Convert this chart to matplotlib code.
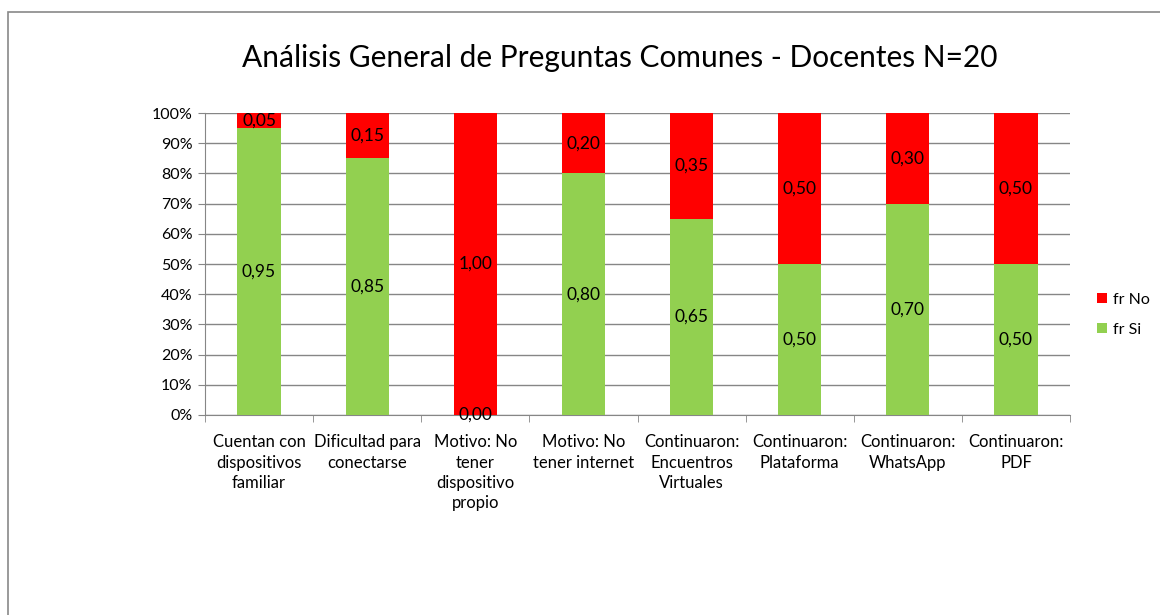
import matplotlib.pyplot as plt
import numpy as np
from matplotlib.patches import Rectangle

plt.rcParams['font.family'] = ['Lato', 'DejaVu Sans']

categorias = ['Cuentan con\ndispositivos\nfamiliar', 'Dificultad para\nconectarse',
              'Motivo: No\ntener\ndispositivo\npropio', 'Motivo: No\ntener internet',
              'Continuaron:\nEncuentros\nVirtuales', 'Continuaron:\nPlataforma',
              'Continuaron:\nWhatsApp', 'Continuaron:\nPDF']
fr_si = [0.95, 0.85, 0.00, 0.80, 0.65, 0.50, 0.70, 0.50]
fr_no = [0.05, 0.15, 1.00, 0.20, 0.35, 0.50, 0.30, 0.50]

verde = '#92D050'
rojo = '#FF0000'
gris = '#868686'

fig = plt.figure(figsize=(11.6, 6.15), dpi=100)
fig.patches.append(Rectangle((8/1160, -0.1), 1.2, (615-12)/615 + 0.1, transform=fig.transFigure,
                             fill=False, edgecolor='#898989', linewidth=1.2))
ax = fig.add_axes([205/1160, 1-415/615, 865/1160, 302/615])

x = np.arange(len(categorias))
b1 = ax.bar(x, fr_si, width=0.4, color=verde, label='fr Si', zorder=3)
b2 = ax.bar(x, fr_no, width=0.4, bottom=fr_si, color=rojo, label='fr No', zorder=3)

for i in range(len(x)):
    ax.text(x[i], fr_si[i]/2, f'{fr_si[i]:.2f}'.replace('.', ','), ha='center', va='center',
            fontsize=12.5, zorder=4)
    ax.text(x[i], fr_si[i] + fr_no[i]/2, f'{fr_no[i]:.2f}'.replace('.', ','), ha='center',
            va='center', fontsize=12.5, zorder=4)

ax.set_xlim(-0.5, len(x) - 0.5)
ax.set_ylim(0, 1)
ax.set_yticks(np.arange(0, 1.01, 0.1))
ax.set_yticklabels([f'{int(round(v*100))}%' for v in np.arange(0, 1.01, 0.1)], fontsize=11.5)
ax.yaxis.grid(True, color=gris, linewidth=1, zorder=0)
ax.set_xticks(x)
ax.set_xticklabels(categorias, fontsize=12, linespacing=1.32)
ax.set_xticks(np.arange(-0.5, len(x)), minor=True)
ax.tick_params(axis='x', which='major', length=0, pad=14)
ax.tick_params(axis='x', which='minor', length=5, color=gris)
ax.tick_params(axis='y', length=5, color=gris, pad=4)
for s in ['top', 'right']:
    ax.spines[s].set_visible(False)
ax.spines['left'].set_color(gris)
ax.spines['bottom'].set_color(gris)

fig.text(620/1160, 1-58/615, 'Análisis General de Preguntas Comunes - Docentes N=20',
         ha='center', va='center', fontsize=21.5)

h, l = ax.get_legend_handles_labels()
fig.legend(h[::-1], l[::-1], loc='center left', bbox_to_anchor=(1083/1160, 1-315/615),
           frameon=False, fontsize=11.5, handlelength=0.6, handleheight=0.6,
           handletextpad=0.4, labelspacing=1.0)

fig.savefig('out.png', dpi=100)
